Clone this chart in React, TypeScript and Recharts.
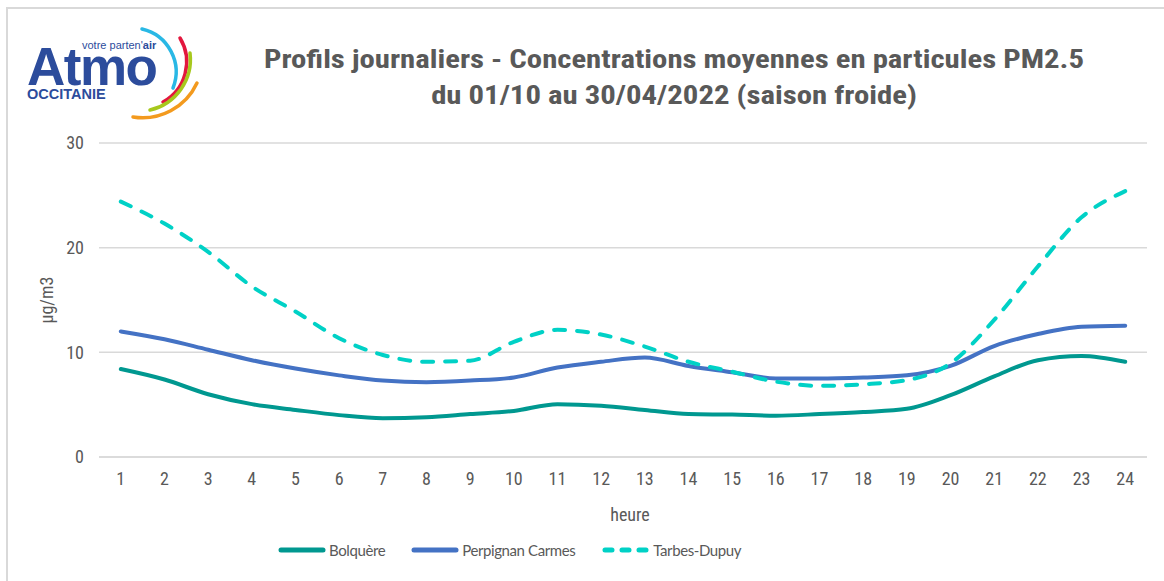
import React from "react"
import { LineChart, Line, XAxis, YAxis, CartesianGrid } from "recharts"

const hours = ["1", "2", "3", "4", "5", "6", "7", "8", "9", "10", "11", "12", "13", "14", "15", "16", "17", "18", "19", "20", "21", "22", "23", "24"]

const bolquere = [8.4, 7.4, 6.0, 5.05, 4.5, 4.0, 3.7, 3.8, 4.1, 4.4, 5.05, 4.9, 4.5, 4.1, 4.05, 3.95, 4.1, 4.3, 4.6, 5.9, 7.7, 9.25, 9.65, 9.1]
const perpignan = [12.0, 11.25, 10.25, 9.25, 8.45, 7.8, 7.3, 7.15, 7.3, 7.6, 8.55, 9.1, 9.5, 8.7, 8.1, 7.5, 7.5, 7.6, 7.8, 8.7, 10.6, 11.75, 12.45, 12.55]
const tarbes = [24.4, 22.3, 19.6, 16.3, 13.9, 11.35, 9.75, 9.1, 9.2, 11.0, 12.15, 11.7, 10.55, 9.1, 8.15, 7.2, 6.8, 6.95, 7.35, 8.95, 13.1, 18.2, 22.9, 25.4]

const yTicks = [0, 10, 20, 30]

const series = [
  { key: "bolquere", name: "Bolquère", color: "#009890", dash: undefined as string | undefined },
  { key: "perpignan", name: "Perpignan Carmes", color: "#4472C4", dash: undefined as string | undefined },
  { key: "tarbes", name: "Tarbes-Dupuy", color: "#00D1C6", dash: "11 12" }
]

const data = hours.map((h, i) => ({
  heure: h,
  bolquere: bolquere[i],
  perpignan: perpignan[i],
  tarbes: tarbes[i]
}))

const narrow = "'Liberation Sans Narrow', 'Arial Narrow', 'Roboto Condensed', sans-serif"
const grey = "#595959"

function Logo() {
  const font = "'Liberation Sans', Arial, sans-serif"
  return (
    <svg width={210} height={125} style={{ position: "absolute", left: 0, top: 0 }}>
      <text x={82} y={49} fontFamily={font} fontSize={11} fill="#2C4C9C">
        votre parten'<tspan fontWeight="bold">air</tspan>
      </text>
      <text x={27} y={85} fontFamily={font} fontSize={53} fontWeight="bold" fill="#2C4C9C" letterSpacing={-1.5}>
        Atmo
      </text>
      <text x={27} y={99} fontFamily={font} fontSize={14.5} fontWeight="bold" fill="#2C4C9C">
        OCCITANIE
      </text>
      <path d="M 142 29 A 44 44 0 0 1 173 88" stroke="#29B8E5" strokeWidth={3.5} fill="none" strokeLinecap="round" />
      <path d="M 180 38 A 46 46 0 0 1 163 102" stroke="#E3173E" strokeWidth={3.5} fill="none" strokeLinecap="round" />
      <path d="M 190 53 A 52 52 0 0 1 150 110" stroke="#A7C81D" strokeWidth={3.5} fill="none" strokeLinecap="round" />
      <path d="M 197 83 A 60 60 0 0 1 133 117" stroke="#F39A1E" strokeWidth={3.5} fill="none" strokeLinecap="round" />
    </svg>
  )
}

export default function App() {
  return (
    <div style={{ position: "absolute", left: 0, top: 0, width: 1164, height: 581, background: "#fff", overflow: "hidden" }}>
      <div style={{ position: "absolute", left: 6, top: 7, right: 0, bottom: 0, borderTop: "2px solid #d9d9d9", borderLeft: "2px solid #d9d9d9" }} />

      <Logo />

      <div
        style={{
          position: "absolute",
          left: 174,
          width: 1000,
          top: 42,
          textAlign: "center",
          fontFamily: narrow,
          fontWeight: "bold",
          fontSize: 25,
          lineHeight: "36px",
          color: grey,
          transform: "scaleX(1.23)",
          transformOrigin: "500px 0"
        }}
      >
        <div>Profils journaliers - Concentrations moyennes en particules PM2.5</div>
        <div>du 01/10 au 30/04/2022 (saison froide)</div>
      </div>

      <div style={{ position: "absolute", left: 0, top: 0 }}>
        <LineChart
          width={1164}
          height={581}
          data={data}
          margin={{ top: 143, right: 17, bottom: 94, left: 39 }}
        >
          <CartesianGrid vertical={false} stroke="#d9d9d9" strokeWidth={1.5} />
          <XAxis
            dataKey="heure"
            height={30}
            padding={{ left: 21.8, right: 21.8 }}
            axisLine={{ stroke: "#d9d9d9", strokeWidth: 1.5 }}
            tickLine={false}
            tickMargin={9}
            interval={0}
            tick={{ fill: grey, fontSize: 18, fontFamily: narrow }}
          />
          <YAxis
            width={60}
            domain={[0, 30]}
            ticks={yTicks}
            axisLine={false}
            tickLine={false}
            tickMargin={9}
            tick={{ fill: grey, fontSize: 18, fontFamily: narrow }}
          />
          {series.map(s => (
            <Line
              key={s.key}
              dataKey={s.key}
              name={s.name}
              type="monotone"
              stroke={s.color}
              strokeWidth={4}
              strokeDasharray={s.dash}
              strokeLinecap="round"
              dot={false}
              activeDot={false}
              isAnimationActive={false}
            />
          ))}
        </LineChart>
      </div>

      <div style={{ position: "absolute", left: 630, top: 504, transform: "translateX(-50%)", fontFamily: narrow, fontSize: 18, color: grey }}>
        heure
      </div>
      <div
        style={{
          position: "absolute",
          left: 46,
          top: 300,
          transform: "translate(-50%, -50%) rotate(-90deg)",
          fontFamily: narrow,
          fontSize: 18,
          color: grey,
          whiteSpace: "nowrap"
        }}
      >
        µg/m3
      </div>

      <div style={{ position: "absolute", left: 278, top: 541, display: "flex", alignItems: "center", fontFamily: "Lato, 'Open Sans', sans-serif", fontSize: 15, letterSpacing: -0.4, color: grey }}>
        {series.map((s, i) => (
          <div key={s.key} style={{ display: "flex", alignItems: "center", marginRight: i === 0 ? 26 : 27 }}>
            <svg width={48} height={10} style={{ marginRight: 3 }}>
              <line
                x1={3}
                y1={5}
                x2={45}
                y2={5}
                stroke={s.color}
                strokeWidth={5}
                strokeLinecap="round"
                strokeDasharray={s.dash ? "7 10" : undefined}
              />
            </svg>
            <span>{s.name}</span>
          </div>
        ))}
      </div>
    </div>
  )
}
